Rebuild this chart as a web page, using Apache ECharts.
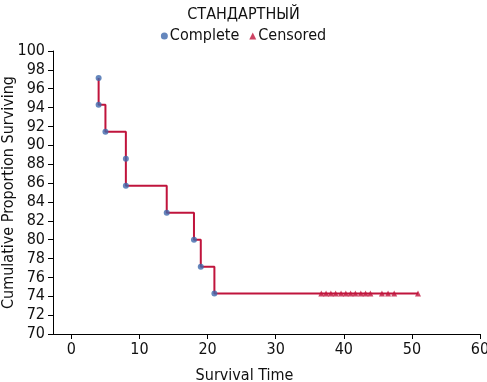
<!DOCTYPE html>
<html><head><meta charset="utf-8">
<script src="https://cdn.jsdelivr.net/npm/echarts@6/dist/echarts.min.js"></script>
<style>html,body{margin:0;padding:0;background:#fff}#c{width:487px;height:382px}</style>
</head><body><div id="c"></div>
<script>
const titleText = 'СТАНДАРТНЫЙ';
const xTickValues = [0, 10, 20, 30, 40, 50, 60];
const completeTimes = [4, 4, 5, 8, 8, 14, 18, 19, 21];
const completeSurv = [97.14, 94.29, 91.43, 88.57, 85.71, 82.86, 80.0, 77.14, 74.29];
const censoredTimes = [36.7, 37.4, 38.1, 38.8, 39.6, 40.3, 41.0, 41.7, 42.5, 43.2, 43.9, 45.6, 46.5, 47.4, 50.9];
const censoredSurv = 74.29;
const lastTime = 50.9;

const FONT = '"Liberation Sans Narrow","DejaVu Sans Condensed","Roboto",sans-serif';
const BLUE = '#3E69AC';
const RED = '#C0143C';

const stepData = completeTimes.map((t, i) => [t, completeSurv[i]]);
stepData.push([lastTime, censoredSurv]);

const chart = echarts.init(document.getElementById('c'), null, {renderer: 'canvas'});
chart.setOption({
  animation: false,
  backgroundColor: '#fff',
  title: {
    text: titleText, left: 'center', top: 2,
    textStyle: {fontFamily: FONT, fontSize: 16, fontWeight: 'normal', color: '#111'}
  },
  legend: {
    top: 23, left: 'center', itemGap: 10, itemWidth: 7, itemHeight: 7,
    textStyle: {fontFamily: FONT, fontSize: 16, color: '#111', padding: [0,0,0,-3]},
    data: [{name: 'Complete', icon: 'circle'}, {name: 'Censored', icon: 'triangle'}]
  },
  grid: {left: 53, right: 7, top: 51, bottom: 48, containLabel: false, outerBoundsMode: 'none'},
  xAxis: {
    type: 'value', min: -2.7, max: 60,
    name: 'Survival Time', nameLocation: 'middle', nameGap: 34, nameMoveOverlap: false,
    nameTextStyle: {fontFamily: FONT, fontSize: 16, color: '#111', padding: [0, 44, 0, 0]},
    axisLine: {show: true, onZero: false, lineStyle: {color: '#000', width: 1}},
    axisTick: {show: true, length: 5, customValues: xTickValues, lineStyle: {color: '#000'}},
    axisLabel: {customValues: xTickValues, fontFamily: FONT, fontSize: 16, color: '#111', margin: 8},
    splitLine: {show: false}
  },
  yAxis: {
    type: 'value', min: 70, max: 100, interval: 2,
    name: 'Cumulative Proportion Surviving', nameLocation: 'middle', nameRotate: 90, nameGap: 36, nameMoveOverlap: false,
    nameTextStyle: {fontFamily: FONT, fontSize: 16, color: '#111'},
    axisLine: {show: true, onZero: false, lineStyle: {color: '#000', width: 1}},
    axisTick: {show: true, length: 5, lineStyle: {color: '#000'}},
    axisLabel: {fontFamily: FONT, fontSize: 16, color: '#111', margin: 8},
    splitLine: {show: false}
  },
  series: [
    {
      name: 'step', type: 'line', step: 'end', data: stepData, showSymbol: false, symbol: 'none',
      lineStyle: {color: RED, width: 2}, z: 2, silent: true
    },
    {
      name: 'Complete', type: 'scatter', symbol: 'circle', symbolSize: 6,
      itemStyle: {color: BLUE},
      data: completeTimes.map((t, i) => [t, completeSurv[i]]), z: 3
    },
    {
      name: 'Censored', type: 'scatter', symbol: 'triangle', symbolSize: 6,
      itemStyle: {color: RED},
      data: censoredTimes.map(t => [t, censoredSurv]), z: 3
    }
  ]
});
</script>
</body></html>
